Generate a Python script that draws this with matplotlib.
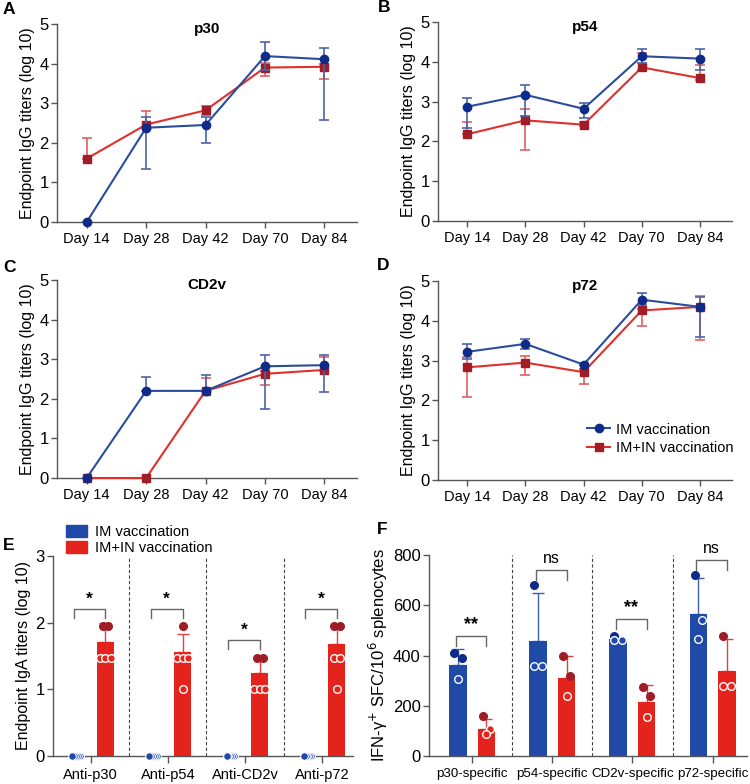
import numpy as np
import matplotlib
matplotlib.use('Agg')
import matplotlib.pyplot as plt
from matplotlib.patches import Patch
from matplotlib.lines import Line2D

plt.rcParams['font.family'] = ['Liberation Sans', 'DejaVu Sans']

days = ['Day 14', 'Day 28', 'Day 42', 'Day 70', 'Day 84']

# IgG titers (log10): mean, lower / upper end of error bar
p30_im = [0, 2.38, 2.45, 4.19, 4.11]
p30_im_lo = [0, 1.33, 2.00, 3.85, 2.58]
p30_im_hi = [0, 2.66, 2.65, 4.55, 4.40]
p30_in = [1.60, 2.46, 2.82, 3.90, 3.92]
p30_in_lo = [1.60, 2.40, 2.70, 3.68, 3.61]
p30_in_hi = [2.12, 2.80, 2.92, 4.02, 4.00]

p54_im = [2.87, 3.17, 2.82, 4.14, 4.08]
p54_im_lo = [2.33, 2.63, 2.60, 3.96, 3.79]
p54_im_hi = [3.10, 3.41, 2.97, 4.32, 4.31]
p54_in = [2.18, 2.53, 2.42, 3.86, 3.59]
p54_in_lo = [2.18, 1.79, 2.38, 3.80, 3.55]
p54_in_hi = [2.49, 2.81, 2.48, 4.23, 3.93]

cd2v_im = [0, 2.20, 2.20, 2.82, 2.85]
cd2v_im_lo = [0, 2.20, 2.20, 1.73, 2.16]
cd2v_im_hi = [0, 2.56, 2.59, 3.10, 3.11]
cd2v_in = [0, 0, 2.20, 2.63, 2.73]
cd2v_in_lo = [0, 0, 2.20, 2.34, 2.70]
cd2v_in_hi = [0, 0, 2.52, 2.70, 3.05]

p72_im = [3.22, 3.42, 2.90, 4.53, 4.35]
p72_im_lo = [3.05, 3.28, 2.88, 4.40, 3.60]
p72_im_hi = [3.41, 3.54, 2.95, 4.71, 4.60]
p72_in = [2.83, 2.95, 2.71, 4.26, 4.35]
p72_in_lo = [2.09, 2.65, 2.41, 3.87, 3.51]
p72_in_hi = [3.09, 3.11, 2.78, 4.30, 4.63]

# IgA (panel E)
iga_groups = ['Anti-p30', 'Anti-p54', 'Anti-CD2v', 'Anti-p72']
iga_in_mean = [1.71, 1.56, 1.24, 1.68]
iga_in_top = [1.99, 1.835, 1.485, 1.955]
iga_in_pts = [[1.954, 1.954, 1.477, 1.477, 1.477],
              [1.954, 1.477, 1.477, 1.477, 1.0],
              [1.477, 1.477, 1.0, 1.0, 1.0],
              [1.954, 1.954, 1.477, 1.477, 1.0]]
iga_sig = ['*', '*', '*', '*']
iga_sig_y = [2.2, 2.2, 1.735, 2.2]

# IFN-gamma ELISpot (panel F)
sfc_groups = ['p30-specific', 'p54-specific', 'CD2v-specific', 'p72-specific']
sfc_im_mean = [364, 458, 465, 567]
sfc_im_top = [424, 650, 474, 707]
sfc_im_pts = [[411, 391, 308], [679, 360, 360], [478, 461, 461], [720, 543, 464]]
sfc_in_mean = [109, 312, 215, 339]
sfc_in_top = [146, 397, 284, 465]
sfc_in_pts = [[159, 106, 89], [399, 319, 239], [275, 239, 155], [478, 279, 279]]
sfc_sig = ['**', 'ns', '**', 'ns']
sfc_sig_y = [477, 740, 545, 780]

blue_line = '#2b4c9a'
blue_mk = '#0e2b8a'
red_line = '#e0302b'
red_mk = '#a01c26'
blue_bar = '#1f4aa8'
red_bar = '#e3231c'
spine_c = '#555555'

fig = plt.figure(figsize=(7.5, 7.84), dpi=100)


def px_axes(l, t, r, b):
    return fig.add_axes([l / 750, 1 - b / 784, (r - l) / 750, (b - t) / 784])


def style(ax, xsize=10.5):
    for s in ['top', 'right']:
        ax.spines[s].set_visible(False)
    for s in ['left', 'bottom']:
        ax.spines[s].set_color(spine_c)
        ax.spines[s].set_linewidth(1.0)
    ax.tick_params(colors=spine_c, labelcolor='black', width=1.0, length=4)
    ax.tick_params(axis='x', labelsize=xsize)
    ax.tick_params(axis='y', labelsize=12, pad=2)


def line_panel(ax, title, im, im_lo, im_hi, inn, in_lo, in_hi):
    x = np.arange(len(days))
    im, im_lo, im_hi = map(np.array, (im, im_lo, im_hi))
    inn, in_lo, in_hi = map(np.array, (inn, in_lo, in_hi))
    ax.errorbar(x, inn, yerr=[inn - in_lo, in_hi - inn], color=red_line, lw=1.5,
                ecolor='#e06060', elinewidth=1.2, capsize=3.5, capthick=1.2,
                marker='s', ms=5.5, mfc=red_mk, mec=red_mk, zorder=3, clip_on=False)
    ax.errorbar(x, im, yerr=[im - im_lo, im_hi - im], color=blue_line, lw=1.5,
                ecolor='#4a66a8', elinewidth=1.2, capsize=3.5, capthick=1.2,
                marker='o', ms=6, mfc=blue_mk, mec=blue_mk, zorder=4, clip_on=False)
    ax.set_xlim(-0.5, 4.55)
    ax.set_ylim(0, 5)
    ax.set_xticks(x)
    ax.set_xticklabels(days)
    ax.set_yticks(range(6))
    ax.set_ylabel('Endpoint IgG titers (log 10)', fontsize=11.5, labelpad=3)
    ax.set_title(title, fontsize=11, fontweight='bold', pad=-2, y=0.97)
    style(ax)


axA = px_axes(57, 24, 357, 222)
line_panel(axA, 'p30', p30_im, p30_im_lo, p30_im_hi, p30_in, p30_in_lo, p30_in_hi)
axB = px_axes(438, 22, 732, 221)
line_panel(axB, 'p54', p54_im, p54_im_lo, p54_im_hi, p54_in, p54_in_lo, p54_in_hi)
axC = px_axes(57, 280, 357, 478)
line_panel(axC, 'CD2v', cd2v_im, cd2v_im_lo, cd2v_im_hi, cd2v_in, cd2v_in_lo, cd2v_in_hi)
axD = px_axes(438, 281, 732, 480)
line_panel(axD, 'p72', p72_im, p72_im_lo, p72_im_hi, p72_in, p72_in_lo, p72_in_hi)

leg_handles = [Line2D([], [], color=blue_line, marker='o', mfc=blue_mk, mec=blue_mk, ms=6, lw=1.5),
               Line2D([], [], color=red_line, marker='s', mfc=red_mk, mec=red_mk, ms=5.5, lw=1.5)]
axD.legend(leg_handles, ['IM vaccination', 'IM+IN vaccination'], loc='lower right',
           bbox_to_anchor=(1.05, 0.06), frameon=False, fontsize=10.5, handlelength=1.6,
           handletextpad=0.4, labelspacing=0.3)


def bracket(ax, x1, x2, y, drop, text, ty, fs, weight='bold'):
    ax.plot([x1, x1, x2, x2], [y - drop, y, y, y - drop], color='#666666', lw=1.0, clip_on=False)
    ax.text((x1 + x2) / 2, ty, text, ha='center', va='center', fontsize=fs,
            fontweight=weight, clip_on=False)


def swarm_offsets(vals, step):
    offs = np.zeros(len(vals))
    vals = np.array(vals)
    for v in np.unique(vals):
        idx = np.where(vals == v)[0]
        n = len(idx)
        offs[idx] = (np.arange(n) - (n - 1) / 2) * step
    return offs


# Panel E
axE = px_axes(53, 556, 353, 756)
xg = np.arange(len(iga_groups))
dx = 0.19
w = 0.22
axE.bar(xg + dx, iga_in_mean, width=w, color=red_bar, zorder=2)
axE.errorbar(xg + dx, iga_in_mean, yerr=[np.zeros(4), np.array(iga_in_top) - np.array(iga_in_mean)],
             fmt='none', ecolor='#e04040', elinewidth=1.0, capsize=4, capthick=1.0, zorder=1)
for i in range(len(iga_groups)):
    pts = np.array(iga_in_pts[i])
    offs = swarm_offsets(pts, 0.075)
    for p, o in zip(pts, offs):
        if p > iga_in_mean[i]:
            axE.plot(xg[i] + dx + o, p, 'o', ms=5.5, mfc=red_mk, mec=red_mk, zorder=4)
        else:
            axE.plot(xg[i] + dx + o, p, 'o', ms=5.5, mfc=red_bar, mec='white', mew=1.0, zorder=4)
    # IM group: all at 0
    for o in np.linspace(0.05, -0.05, 5):
        axE.plot(xg[i] - dx + o, 0, 'o', ms=5.5, mfc=blue_bar, mec='white', mew=0.8,
                 zorder=4, clip_on=False)
    bracket(axE, xg[i] - dx - 0.03, xg[i] + dx, iga_sig_y[i], 0.13, iga_sig[i],
            iga_sig_y[i] + 0.15, 12.5)
for s in [0.5, 1.5, 2.5]:
    axE.axvline(s, color='#444444', ls=(0, (3, 2)), lw=0.8, zorder=0)
axE.set_xlim(-0.49, 3.40)
axE.set_ylim(0, 3)
axE.set_yticks([0, 1, 2, 3])
axE.set_xticks(xg)
axE.set_xticklabels(iga_groups)
axE.set_ylabel('Endpoint IgA titers (log 10)', fontsize=11.5, labelpad=3)
style(axE)
axE.tick_params(axis='x', length=5)
fig.legend([Patch(color=blue_bar), Patch(color=red_bar)], ['IM vaccination', 'IM+IN vaccination'],
           loc='upper left', bbox_to_anchor=(56 / 750, 1 - 515 / 784), frameon=False, fontsize=10.5,
           handlelength=1.4, handleheight=0.9, handletextpad=0.6, labelspacing=0.1, borderpad=0.2)

# Panel F
axF = px_axes(429, 555, 747, 756)
xg = np.arange(len(sfc_groups))
dx = 0.177
axF.bar(xg - dx, sfc_im_mean, width=w, color=blue_bar, zorder=2)
axF.bar(xg + dx, sfc_in_mean, width=w, color=red_bar, zorder=2)
axF.errorbar(xg - dx, sfc_im_mean, yerr=[np.zeros(4), np.array(sfc_im_top) - np.array(sfc_im_mean)],
             fmt='none', ecolor='#3a5db0', elinewidth=1.0, capsize=4, capthick=1.0, zorder=1)
axF.errorbar(xg + dx, sfc_in_mean, yerr=[np.zeros(4), np.array(sfc_in_top) - np.array(sfc_in_mean)],
             fmt='none', ecolor='#e04040', elinewidth=1.0, capsize=4, capthick=1.0, zorder=1)
sfc_offs = [-0.08, 0.08, 0.0]
for i in range(len(sfc_groups)):
    for pts, mean, xc, bc, mc in [(sfc_im_pts[i], sfc_im_mean[i], xg[i] - dx, blue_bar, blue_mk),
                                   (sfc_in_pts[i], sfc_in_mean[i], xg[i] + dx, red_bar, red_mk)]:
        pts = np.array(pts)
        offs = swarm_offsets(np.round(pts, -1), 0.1)
        for k, (p, o) in enumerate(zip(pts, offs)):
            if o == 0:
                o = sfc_offs[k] * 0.6
            if p > mean:
                axF.plot(xc + o, p, 'o', ms=5.5, mfc=mc, mec=mc, zorder=4)
            else:
                axF.plot(xc + o, p, 'o', ms=5.5, mfc=bc, mec='white', mew=1.0, zorder=4)
    if sfc_sig[i] == '**':
        bracket(axF, xg[i] - dx - 0.03, xg[i] + dx, sfc_sig_y[i], 40, sfc_sig[i],
                sfc_sig_y[i] + 45, 13)
    else:
        bracket(axF, xg[i] - dx - 0.03, xg[i] + dx, sfc_sig_y[i], 40, sfc_sig[i],
                sfc_sig_y[i] + 45, 11.5, weight='normal')
for s in [0.5, 1.5, 2.5]:
    axF.axvline(s, color='#444444', ls=(0, (3, 2)), lw=0.8, zorder=0)
axF.set_xlim(-0.54, 3.43)
axF.set_ylim(0, 800)
axF.set_yticks([0, 200, 400, 600, 800])
axF.set_xticks(xg)
axF.set_xticklabels(sfc_groups)
axF.set_ylabel('IFN-γ$^{+}$ SFC/10$^{6}$ splenocytes', fontsize=12, labelpad=2)
style(axF, xsize=9.6)
axF.tick_params(axis='x', length=5)

for lab, (x, y) in {'A': (3, 10), 'B': (378, 8), 'C': (3, 268), 'D': (377, 266),
                    'E': (3, 545), 'F': (377, 530)}.items():
    fig.text(x / 750, 1 - y / 784, lab, fontsize=12.5, fontweight='bold', va='center', ha='left')

fig.savefig('out.png', dpi=100)
